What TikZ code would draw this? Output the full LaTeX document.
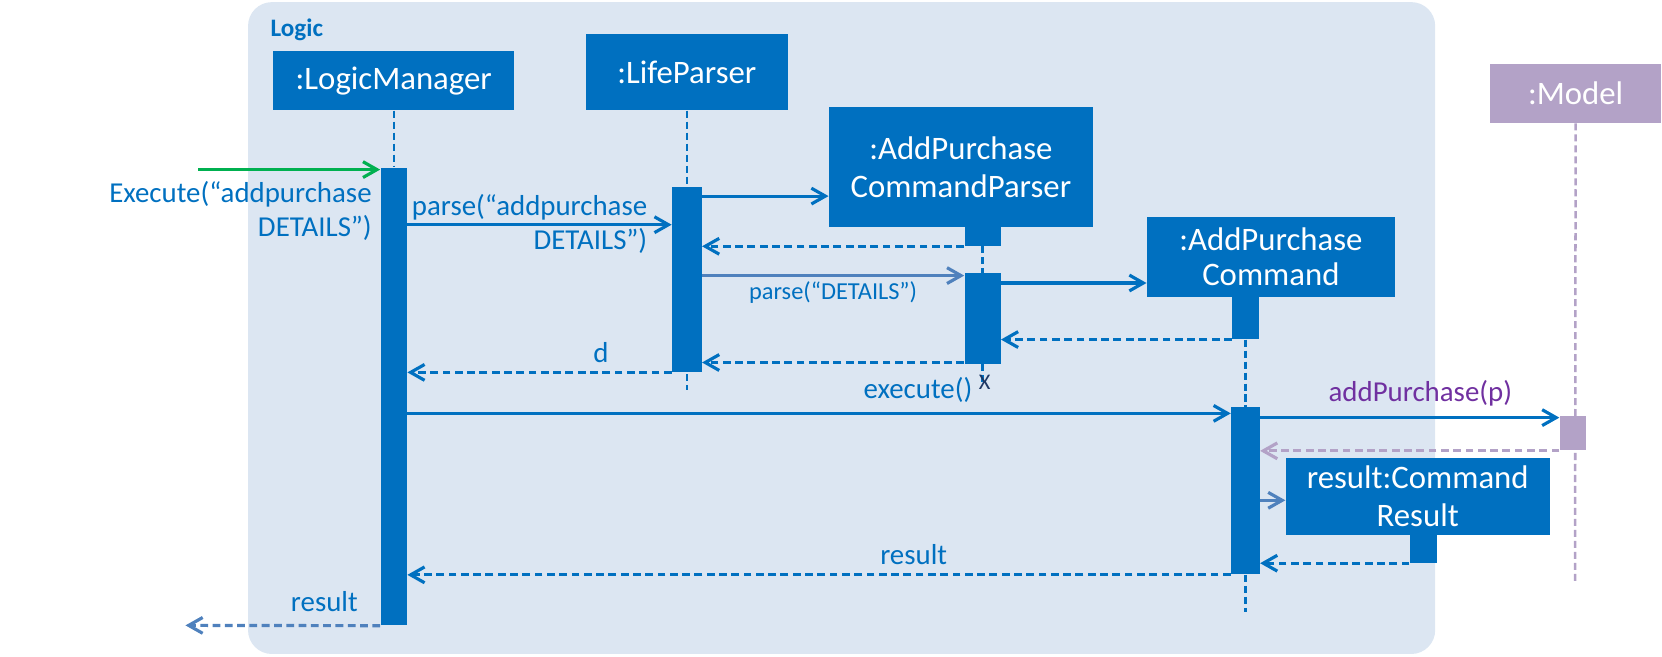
\documentclass[tikz,border=0pt]{standalone}
\usepackage{fontspec}
\setmainfont{Carlito}
\usetikzlibrary{arrows.meta}
\definecolor{lgblue}{HTML}{0070C0}
\definecolor{lgsoft}{HTML}{4F81BD}
\definecolor{lgback}{HTML}{DCE6F2}
\definecolor{lggreen}{HTML}{00B050}
\definecolor{mdbox}{HTML}{B3A2C7}
\definecolor{mdtext}{HTML}{7030A0}
\definecolor{xnavy}{HTML}{1F3864}
\tikzset{
  obj/.style={fill=lgblue,text=white,inner sep=0pt,align=center,font=\fontsize{17.6}{20.5}\selectfont},
  bar/.style={fill=lgblue,inner sep=0pt},
  msg/.style={draw=lgblue,line width=1.7pt,-{Straight Barb[length=7.5pt,width=8.5pt]}},
  ret/.style={msg,dash pattern=on 4.2pt off 2.4pt},
  life/.style={draw=lgblue,line width=1.35pt,dash pattern=on 3.8pt off 2.1pt},
  lbl/.style={text=lgblue,inner sep=0pt,font=\fontsize{15.5}{18.1}\selectfont}
}
\begin{document}
\begin{tikzpicture}[x=0.02cm,y=-0.02cm]
    \useasboundingbox (0,0) rectangle (1568,619);
    \fill[lgback,rounded corners=0.45cm] (234,2) rectangle (1354,617);
    \node[text=lgblue,inner sep=0pt,anchor=west,font=\bfseries\fontsize{13.5}{16}\selectfont] (logic) at (255,28) {Logic};

    % objects
    \node[obj,minimum width=4.54cm,minimum height=1.12cm] (lm) at (371.5,76) {:LogicManager};
    \node[obj,minimum width=3.8cm,minimum height=1.44cm] (lp) at (648,68) {:LifeParser};
    \node[obj,minimum width=4.98cm,minimum height=2.26cm] (acp) at (906.5,157.5) {:AddPurchase\\CommandParser};
    \node[obj,minimum width=4.68cm,minimum height=1.5cm,font=\fontsize{17.6}{19}\selectfont] (ac) at (1199,242.5) {:AddPurchase\\Command};
    \node[obj,fill=mdbox,minimum width=3.22cm,minimum height=1.12cm] (model) at (1486.5,88) {:Model};
    \node[obj,minimum width=4.98cm,minimum height=1.46cm] (res) at (1337.5,468.5) {result:Command\\Result};

    % lifeline ends
    \coordinate (lpEnd) at (648,368);
    \coordinate (acpEnd) at (927,364);
    \coordinate (acEnd) at (1175,577);
    \coordinate (modelEnd) at (1486,549);
    \draw[life] (lp.south) -- (lpEnd);
    \draw[life,draw=mdbox] (model.south) -- (modelEnd);

    % activations
    \node[bar,minimum width=0.5cm,minimum height=8.64cm] (lmAct) at (371.5,374) {};
    \node[bar,minimum width=0.56cm,minimum height=3.5cm] (lpAct) at (648,263.5) {};
    \node[bar,minimum width=0.68cm,minimum height=0.36cm] (acpStub) at (927,223) {};
    \node[bar,minimum width=0.68cm,minimum height=1.7cm] (acpAct) at (927,300.5) {};
    \node[bar,minimum width=0.5cm,minimum height=0.8cm] (acStub) at (1175,300) {};
    \node[bar,minimum width=0.54cm,minimum height=3.16cm] (acAct) at (1175,463) {};
    \node[bar,fill=mdbox,minimum width=0.5cm,minimum height=0.66cm] (modelAct) at (1484,408.5) {};
    \node[bar,minimum width=0.52cm,minimum height=0.52cm] (resStub) at (1343,518) {};

    \draw[life] (lm.south) -- (lmAct.north);
    \draw[life] (acpStub.south) -- (acpAct.north);
    \draw[life] (acpAct.south) -- (acpEnd);
    \draw[life] (acStub.south) -- (acAct.north);
    \draw[life] (acAct.south) -- (acEnd);
    \node[text=xnavy,inner sep=0pt,font=\fontsize{12}{14}\selectfont] (kill) at (929,361) {X};

    % messages
    \coordinate (caller) at (187,160);
    \coordinate (back) at (175,590);
    \draw[msg,draw=lggreen] (caller) -- (lmAct.west |- caller);
    \node[lbl,align=right,anchor=east] (execLbl) at (351,199) {Execute(“addpurchase\\DETAILS”)};
    \draw[msg] (lmAct.east |- 0,212) -- (lpAct.west |- 0,212);
    \node[lbl,align=right,anchor=east] (parseLbl) at (611,211) {parse(“addpurchase\\DETAILS”)};
    \draw[msg] (lpAct.east |- 0,185) -- (acp.west |- 0,185);
    \draw[ret] (acpStub.south west) -- (lpAct.east |- acpStub.south);
    \draw[msg,draw=lgsoft] (lpAct.east |- 0,260) -- (acpAct.west |- 0,260);
    \node[lbl,font=\fontsize{13.1}{15}\selectfont] (detLbl) at (786,276) {parse(“DETAILS”)};
    \draw[msg] (acpAct.east |- 0,267) -- (ac.west |- 0,267);
    \draw[ret] (acStub.south west) -- (acpAct.east |- acStub.south);
    \draw[ret] (acpAct.west |- 0,342) -- (lpAct.east |- 0,342);
    \draw[ret] (lpAct.south west) -- (lmAct.east |- lpAct.south);
    \node[lbl] (dLbl) at (567,333) {d};
    \draw[msg] (lmAct.east |- 0,390) -- (acAct.west |- 0,390);
    \node[lbl] (execCall) at (866,368) {execute()};
    \draw[msg] (acAct.east |- 0,394) -- (modelAct.west |- 0,394);
    \node[lbl,text=mdtext] (addLbl) at (1340,371) {addPurchase(p)};
    \draw[ret,draw=mdbox] (modelAct.south west) -- (acAct.east |- modelAct.south);
    \draw[msg,draw=lgsoft] (acAct.east |- 0,472) -- (res.west |- 0,472);
    \draw[ret] (resStub.south west) -- (acAct.east |- resStub.south);
    \draw[ret] (acAct.south west) -- (lmAct.east |- acAct.south);
    \node[lbl] (resLbl) at (862,523) {result};
    \draw[ret,draw=lgsoft] (lmAct.south west) -- (back);
    \node[lbl] (outLbl) at (306,568) {result};
\end{tikzpicture}
\end{document}
